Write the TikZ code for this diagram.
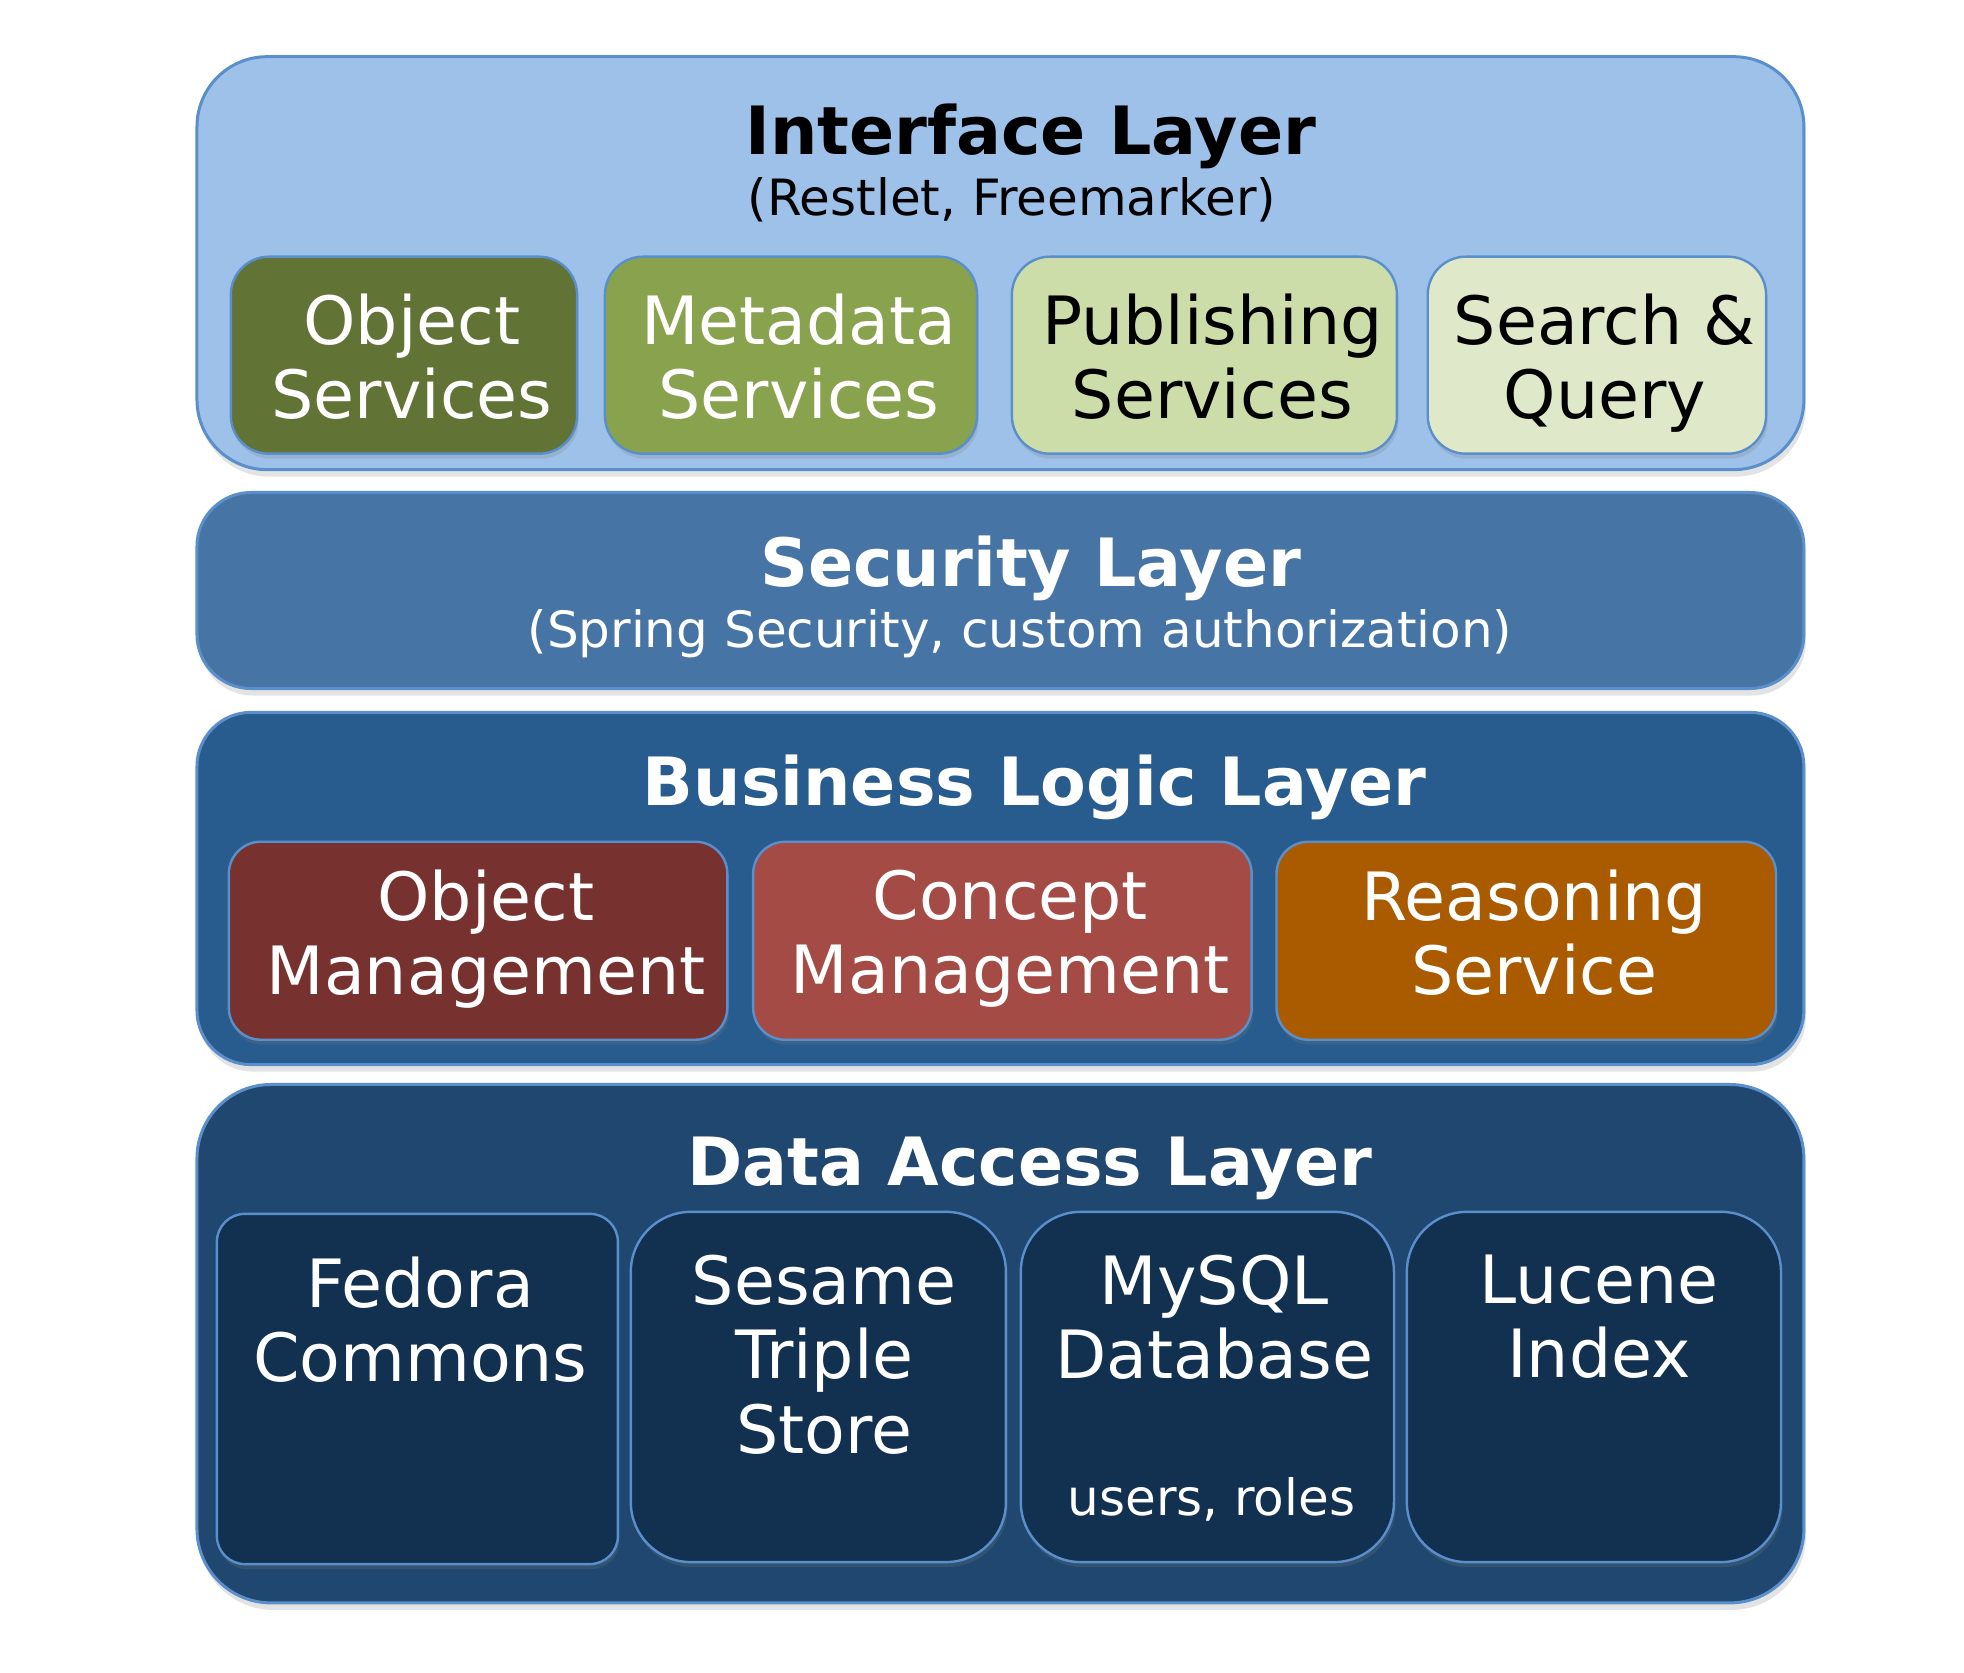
\documentclass[tikz,border=0pt]{standalone}
\usepackage{fontspec}
\setmainfont{DejaVu Sans}
\usetikzlibrary{fit, shadows}

\definecolor{edge}{HTML}{5A8FCB}
\definecolor{ifacefill}{HTML}{9EC1E9}
\definecolor{securfill}{HTML}{4674A4}
\definecolor{logicfill}{HTML}{285C8E}
\definecolor{datafill}{HTML}{1F4770}
\definecolor{storefill}{HTML}{12304F}
\definecolor{objfill}{HTML}{627336}
\definecolor{metafill}{HTML}{89A24D}
\definecolor{pubfill}{HTML}{CDDDAA}
\definecolor{searchfill}{HTML}{DFE8C9}
\definecolor{omfill}{HTML}{773230}
\definecolor{cmfill}{HTML}{A54B45}
\definecolor{rsfill}{HTML}{AA5B00}

\begin{document}
\begin{tikzpicture}[x=0.5pt, y=-0.5pt,
    layer/.style={draw=edge, line width=1.5pt, inner sep=0pt,
      drop shadow={opacity=0.22, shadow xshift=1pt, shadow yshift=-3.5pt}},
    part/.style={draw=edge, line width=1.2pt, inner sep=0pt,
      drop shadow={opacity=0.22, shadow xshift=0.8pt, shadow yshift=-2.5pt}},
    parttext/.style={inner sep=0pt, align=center, text=white, anchor=north,
      font=\fontsize{33.3}{37.2}\selectfont},
    title/.style={inner sep=0pt, anchor=base, font=\bfseries\fontsize{33.3}{40}\selectfont},
    note/.style={inner sep=0pt, anchor=base, font=\fontsize{25}{30}\selectfont}]

      \fill[white] (0,0) rectangle (1964,1673);
      \useasboundingbox (0,0) rectangle (1964,1673);

    \begin{scope}[scale=0.995]
      \node[layer, fill=ifacefill, rounded corners=35pt, fit={(198,57) (1813,472)}] (iface) {};
      \node[layer, fill=securfill, rounded corners=27pt, fit={(198,495) (1813,692)}] (secur) {};
      \node[layer, fill=logicfill, rounded corners=27pt, fit={(198,716) (1813,1070)}] (logic) {};
      \node[layer, fill=datafill, rounded corners=37pt, fit={(198,1090) (1813,1611)}] (dacc) {};

      \node[title] (ifacetitle) at (1036,155) {Interface Layer};
      \node[note] (ifacenote) at (1017,217) {(Restlet, Freemarker)};

      \node[part, fill=objfill, rounded corners=19pt, fit={(232,258) (580,456)}] (objsrv) {};
      \node[part, fill=metafill, rounded corners=19pt, fit={(608,258) (982,456)}] (metasrv) {};
      \node[part, fill=pubfill, rounded corners=19pt, fit={(1017,258) (1404,456)}] (pubsrv) {};
      \node[part, fill=searchfill, rounded corners=19pt, fit={(1435,258) (1775,456)}] (search) {};

      \node[parttext] (objsrvtext) at ([xshift=4pt, yshift=-19pt]objsrv.north) {Object\\Services};
      \node[parttext] (metasrvtext) at ([xshift=4pt, yshift=-19pt]metasrv.north) {Metadata\\Services};
      \node[parttext, text=black] (pubsrvtext) at ([xshift=4pt, yshift=-19pt]pubsrv.north) {Publishing\\Services};
      \node[parttext, text=black] (searchtext) at ([xshift=4pt, yshift=-19pt]search.north) {Search \&\\Query};

      \node[title, white] (securtitle) at (1036,589) {Security Layer};
      \node[note, white] (securnote) at (1025,651) {(Spring Security, custom authorization)};

      \node[title, white] (logictitle) at (1040,810) {Business Logic Layer};

      \node[part, fill=omfill, rounded corners=16pt, fit={(230,846) (731,1045)}] (objmgmt) {};
      \node[part, fill=cmfill, rounded corners=16pt, fit={(757,846) (1258,1045)}] (conmgmt) {};
      \node[part, fill=rsfill, rounded corners=16pt, fit={(1283,846) (1785,1045)}] (reason) {};

      \node[parttext] (objmgmttext) at ([xshift=4pt, yshift=-14.5pt]objmgmt.north) {Object\\Management};
      \node[parttext] (conmgmttext) at ([xshift=4pt, yshift=-14.5pt]conmgmt.north) {Concept\\Management};
      \node[parttext] (reasontext) at ([xshift=4pt, yshift=-14.5pt]reason.north) {Reasoning\\Service};

      \node[title, white] (dacctitle) at (1035,1191) {Data Access Layer};

      \node[part, fill=storefill, rounded corners=14pt, fit={(218,1220) (621,1572)}] (fedora) {};
      \node[part, fill=storefill, rounded corners=30pt, fit={(634,1218) (1011,1570)}] (sesame) {};
      \node[part, fill=storefill, rounded corners=30pt, fit={(1026,1218) (1401,1570)}] (mysql) {};
      \node[part, fill=storefill, rounded corners=30pt, fit={(1414,1218) (1790,1570)}] (lucene) {};

      \node[parttext] (fedoratext) at ([xshift=1.5pt, yshift=-22pt]fedora.north) {Fedora\\Commons};
      \node[parttext] (sesametext) at ([xshift=3pt, yshift=-22pt]sesame.north) {Sesame\\Triple\\Store};
      \node[parttext] (mysqltext) at ([xshift=3.5pt, yshift=-22pt]mysql.north) {MySQL\\Database};
      \node[note, white] (mysqlnote) at ([xshift=2pt, yshift=24pt]mysql.south) {users, roles};
      \node[parttext] (lucenetext) at ([xshift=2.5pt, yshift=-22pt]lucene.north) {Lucene\\Index};
    \end{scope}

    \end{tikzpicture}
\end{document}
